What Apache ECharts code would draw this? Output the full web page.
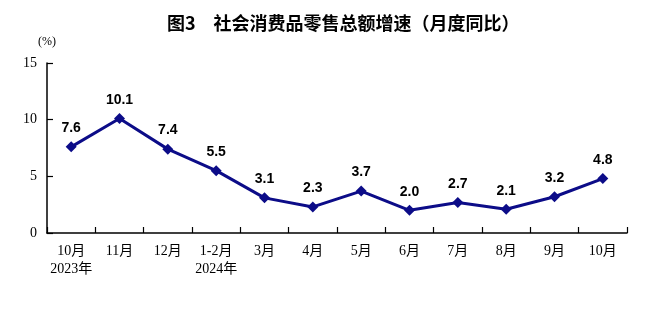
<!DOCTYPE html>
<html>
<head>
<meta charset="utf-8">
<script src="https://cdn.jsdelivr.net/npm/echarts@6/dist/echarts.min.js"></script>
<style>
  html, body { margin: 0; padding: 0; background: #fff; }
  #chart { width: 660px; height: 329px; }
</style>
</head>
<body>
<div id="chart"></div>
<script>
// Monthly year-on-year growth of retail sales of consumer goods (%)
const months = ['10月\n2023年', '11月', '12月', '1-2月\n2024年', '3月', '4月', '5月', '6月', '7月', '8月', '9月', '10月'];
const growth = [7.6, 10.1, 7.4, 5.5, 3.1, 2.3, 3.7, 2.0, 2.7, 2.1, 3.2, 4.8];
const yTicks = [0, 5, 10, 15];

const serif = '"Liberation Serif", "Times New Roman", "Noto Sans CJK SC", serif';
const navy = '#0c0c88';

const chart = echarts.init(document.getElementById('chart'), null, { renderer: 'canvas' });
chart.setOption({
  backgroundColor: '#ffffff',
  animation: false,
  title: {
    text: '图3　社会消费品零售总额增速（月度同比）',
    left: 162,
    top: 9,
    textStyle: {
      fontFamily: '"Noto Sans CJK SC", sans-serif',
      fontSize: 18,
      fontWeight: 'bold',
      color: '#000'
    }
  },
  graphic: [{
    type: 'text',
    left: 38,
    top: 36,
    style: { text: '(%)', fontFamily: serif, fontSize: 12, fill: '#000' }
  }],
  grid: { left: 47, right: 33, top: 63, bottom: 96 },
  xAxis: {
    type: 'category',
    data: months,
    boundaryGap: true,
    axisLine: { lineStyle: { color: '#000', width: 1.5 } },
    axisTick: { show: true, inside: true, length: 6, lineStyle: { color: '#000', width: 1.2 } },
    axisLabel: {
      color: '#000',
      fontFamily: serif,
      fontSize: 14,
      lineHeight: 18,
      margin: 9,
      interval: 0
    }
  },
  yAxis: {
    type: 'value',
    min: yTicks[0],
    max: yTicks[yTicks.length - 1],
    interval: 5,
    splitLine: { show: false },
    axisLine: { show: true, lineStyle: { color: '#000', width: 1.5 } },
    axisTick: { show: true, inside: true, length: 6, lineStyle: { color: '#000', width: 1.2 } },
    axisLabel: { color: '#000', fontFamily: serif, fontSize: 14, margin: 10 }
  },
  series: [{
    type: 'line',
    data: growth,
    symbol: 'diamond',
    symbolSize: 11,
    lineStyle: { color: navy, width: 3 },
    itemStyle: { color: navy },
    label: {
      show: true,
      position: 'top',
      distance: 6,
      formatter: p => p.value.toFixed(1),
      fontFamily: '"Liberation Sans", Arial, sans-serif',
      fontWeight: 'bold',
      fontSize: 14,
      color: '#000'
    }
  }]
});
</script>
</body>
</html>
